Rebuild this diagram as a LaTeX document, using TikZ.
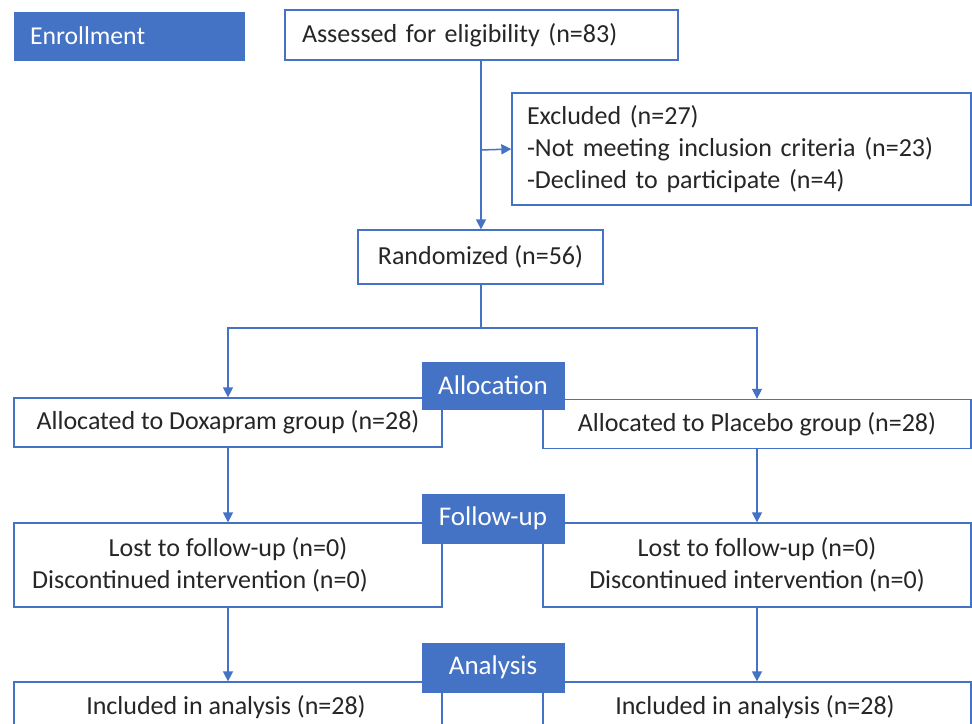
\documentclass[tikz,border=0pt]{standalone}
\usepackage{fontspec}
\setmainfont{Carlito}
\usetikzlibrary{arrows.meta,calc}
\definecolor{cblue}{HTML}{4472C4}
\definecolor{ctext}{HTML}{262626}
\tikzset{
  box/.style={draw=cblue, line width=1.3pt, fill=white, text=ctext, inner sep=0pt,
    font=\fontsize{26}{32}\selectfont},
  lbox/.style={box, align=left},
  cbox/.style={box, align=center},
  tag/.style={fill=cblue, draw=cblue, text=white, inner sep=0pt, align=center,
    minimum width=142pt, font=\fontsize{27}{30}\selectfont},
  conn/.style={draw=cblue, line width=1.5pt},
  arr/.style={conn, -{Triangle[width=10pt,length=10pt]}},
  plain/.style={text=ctext, font=\fontsize{26}{32}\selectfont, inner sep=0pt},
}
\begin{document}
\begin{tikzpicture}[x=1pt,y=-1pt]
\useasboundingbox (0,0) rectangle (972,723);
\clip (0,0) rectangle (972,723);
\fill[white] (0,0) rectangle (972,723);
% enrollment
\node[tag, minimum width=230pt, minimum height=48pt, text width=198pt, align=left,
  font=\fontsize{25.7}{30}\selectfont] (enroll) at (129,36) {Enrollment};
% boxes
\node[lbox, minimum width=393pt, minimum height=50pt, text width=359pt] (assess) at (481.5,35) {Assessed for eligibility (n=83)};
\node[lbox, minimum width=459pt, minimum height=112pt, text width=429pt] (excl) at (741.5,149)
  {Excluded (n=27)\\-Not meeting inclusion criteria (n=23)\\-Declined to participate (n=4)};
\node[cbox, minimum width=245pt, minimum height=54pt] (rand) at (480.5,257) {Randomized (n=56)};
\node[cbox, minimum width=428pt, minimum height=49pt] (dox) at (228,422.5) {Allocated to Doxapram group (n=28)};
\node[cbox, minimum width=428pt, minimum height=49pt] (plc) at (757,424) {Allocated to Placebo group (n=28)};
\node[cbox, minimum width=428pt, minimum height=84pt] (lostL) at (228,565)
  {Lost to follow-up (n=0)\\\hspace*{-56pt}Discontinued intervention (n=0)};
\node[cbox, minimum width=428pt, minimum height=84pt] (lostR) at (757,565)
  {Lost to follow-up (n=0)\\Discontinued intervention (n=0)};
\node[cbox, minimum width=428pt, minimum height=80pt] (inclL) at (228,722) {};
\node[cbox, minimum width=428pt, minimum height=80pt] (inclR) at (757,722) {};
\node[plain] (inclLt) at (226,707) {Included in analysis (n=28)};
\node[plain] (inclRt) at (755,707) {Included in analysis (n=28)};
% connectors
\coordinate (j) at (481,150);
\coordinate (split) at (481,328);
\draw[arr] (assess.south -| 481,0) -- (rand.north -| 481,0);
\draw[arr] (j) -- (excl.west);
\draw[conn] (rand.south -| 481,0) -- (split);
\draw[arr] (split) -| (dox.north);
\draw[arr] (split) -| (plc.north);
\draw[arr] (dox.south) -- (lostL.north);
\draw[arr] (plc.south) -- (lostR.north);
\draw[arr] (lostL.south) -- (inclL.north);
\draw[arr] (lostR.south) -- (inclR.north);
% stage tags
\node[tag, minimum height=47pt] (alloc) at (493,385.5) {Allocation};
\node[tag, minimum height=49pt] (fol) at (493,518.5) {Follow-up};
\node[tag, minimum height=49pt] (ana) at (493,667.5) {Analysis};
\end{tikzpicture}
\end{document}
